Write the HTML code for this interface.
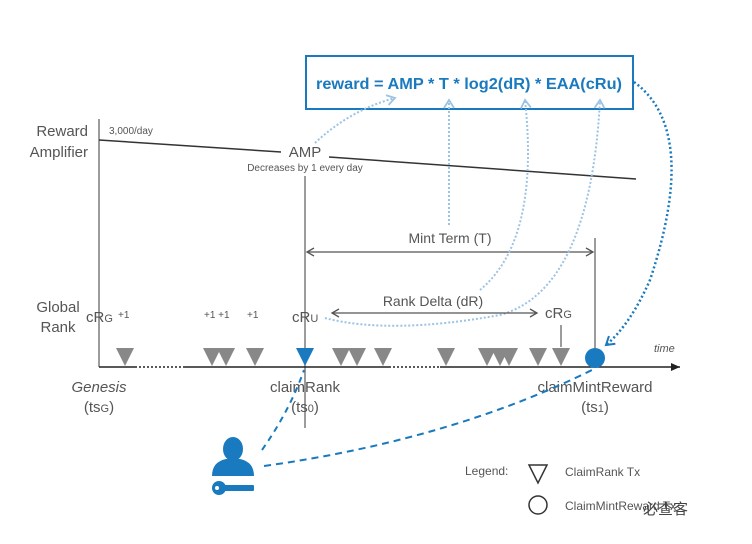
<!DOCTYPE html>
<html><head><meta charset="utf-8"><style>
html,body{margin:0;padding:0;background:#fff}
svg{display:block}
text{font-family:"Liberation Sans","Noto Sans CJK SC",sans-serif;fill:#555}
</style></head><body>
<svg width="752" height="544" viewBox="0 0 752 544" xmlns="http://www.w3.org/2000/svg">
<defs>
<marker id="ag" markerWidth="10" markerHeight="10" refX="8" refY="5" orient="auto-start-reverse" markerUnits="userSpaceOnUse"><path d="M1,1 L8,5 L1,9" fill="none" stroke="#555" stroke-width="1.3"/></marker>
<marker id="ab" markerWidth="12" markerHeight="12" refX="9" refY="6" orient="auto" markerUnits="userSpaceOnUse"><path d="M1,1 L9,6 L1,11" fill="none" stroke="#9cc3e3" stroke-width="1.8"/></marker>
<marker id="abd" markerWidth="12" markerHeight="12" refX="9" refY="6" orient="auto" markerUnits="userSpaceOnUse"><path d="M1,1 L9,6 L1,11" fill="none" stroke="#1a7abf" stroke-width="2"/></marker>
<marker id="ax" markerWidth="10" markerHeight="10" refX="9" refY="5" orient="auto" markerUnits="userSpaceOnUse"><path d="M0,1 L9,5 L0,9 z" fill="#222"/></marker>
</defs>

<rect x="306" y="56" width="327" height="53" fill="#fff" stroke="#1a7abf" stroke-width="2"/>
<text x="316" y="89" textLength="306" lengthAdjust="spacingAndGlyphs" style="font-weight:bold;font-size:16px;fill:#1a7abf">reward = AMP * T * log2(dR) * EAA(cRu)</text>

<text x="88" y="136" text-anchor="end" font-size="15">Reward</text>
<text x="88" y="157" text-anchor="end" font-size="15">Amplifier</text>
<text x="58" y="312" text-anchor="middle" font-size="15">Global</text>
<text x="58" y="332" text-anchor="middle" font-size="15">Rank</text>

<line x1="99" y1="119" x2="99" y2="367" stroke="#666" stroke-width="1.3"/>
<text x="109" y="134" font-size="10">3,000/day</text>
<line x1="99" y1="140" x2="281" y2="152" stroke="#333" stroke-width="1.5"/>
<line x1="329" y1="157" x2="636" y2="179" stroke="#333" stroke-width="1.5"/>
<text x="305" y="157" text-anchor="middle" font-size="15">AMP</text>
<text x="305" y="171" text-anchor="middle" font-size="10">Decreases by 1 every day</text>

<line x1="305" y1="176" x2="305" y2="428" stroke="#666" stroke-width="1.3"/>
<line x1="595" y1="238" x2="595" y2="350" stroke="#666" stroke-width="1.3"/>
<line x1="307" y1="252" x2="593" y2="252" stroke="#555" stroke-width="1.3" marker-end="url(#ag)" marker-start="url(#ag)"/>
<text x="450" y="243" text-anchor="middle" font-size="14">Mint Term (T)</text>

<path d="M315,143 Q350,110 395,98" fill="none" stroke="#9cc3e3" stroke-width="2" stroke-dasharray="2,2" marker-end="url(#ab)"/>
<line x1="449" y1="225" x2="449" y2="100" stroke="#9cc3e3" stroke-width="2" stroke-dasharray="2,2" marker-end="url(#ab)"/>
<path d="M480,290 Q540,240 525,100" fill="none" stroke="#9cc3e3" stroke-width="2" stroke-dasharray="2,2" marker-end="url(#ab)"/>
<path d="M325,318 Q390,335 500,315 Q590,290 600,100" fill="none" stroke="#9cc3e3" stroke-width="2" stroke-dasharray="2,2" marker-end="url(#ab)"/>
<path d="M634,82 Q700,130 650,280 Q630,325 606,345" fill="none" stroke="#1a7abf" stroke-width="2.5" stroke-dasharray="2,2.5" marker-end="url(#abd)"/>

<text x="86" y="322" font-size="15">cR<tspan font-size="11">G</tspan></text>
<text x="118" y="318" font-size="10">+1</text>
<text x="204" y="318" font-size="10">+1 +1</text>
<text x="247" y="318" font-size="10">+1</text>
<text x="292" y="322" font-size="15">cR<tspan font-size="11">U</tspan></text>
<line x1="332" y1="313" x2="537" y2="313" stroke="#555" stroke-width="1.3" marker-end="url(#ag)" marker-start="url(#ag)"/>
<text x="433" y="306" text-anchor="middle" font-size="14">Rank Delta (dR)</text>
<text x="545" y="318" font-size="15">cR<tspan font-size="11">G</tspan></text>
<line x1="561" y1="325" x2="561" y2="347" stroke="#666" stroke-width="1.3"/>

<line x1="99" y1="367" x2="135" y2="367" stroke="#222" stroke-width="1.5"/>
<line x1="135" y1="367" x2="183" y2="367" stroke="#222" stroke-width="1.5" stroke-dasharray="2,2"/>
<line x1="183" y1="367" x2="389" y2="367" stroke="#222" stroke-width="1.5"/>
<line x1="389" y1="367" x2="440" y2="367" stroke="#222" stroke-width="1.5" stroke-dasharray="2,2"/>
<line x1="440" y1="367" x2="680" y2="367" stroke="#222" stroke-width="1.5" marker-end="url(#ax)"/>
<text x="654" y="352" font-size="11" font-style="italic">time</text>

<g fill="#888">
<path d="M116,348h18l-9,18z"/>
<path d="M203,348h18l-9,18z"/>
<path d="M217,348h18l-9,18z"/>
<path d="M246,348h18l-9,18z"/>
<path d="M332,348h18l-9,18z"/>
<path d="M348,348h18l-9,18z"/>
<path d="M374,348h18l-9,18z"/>
<path d="M437,348h18l-9,18z"/>
<path d="M478,348h18l-9,18z"/>
<path d="M491,348h18l-9,18z"/>
<path d="M500,348h18l-9,18z"/>
<path d="M529,348h18l-9,18z"/>
<path d="M552,348h18l-9,18z"/>
</g>
<path d="M296,348h18l-9,18z" fill="#1a7abf"/>
<circle cx="595" cy="358" r="10" fill="#1a7abf"/>

<text x="99" y="392" text-anchor="middle" font-size="15" font-style="italic">Genesis</text>
<text x="99" y="412" text-anchor="middle" font-size="15">(ts<tspan font-size="11">G</tspan>)</text>
<text x="305" y="392" text-anchor="middle" font-size="15">claimRank</text>
<text x="305" y="412" text-anchor="middle" font-size="15">(ts<tspan font-size="11">0</tspan>)</text>
<text x="595" y="392" text-anchor="middle" font-size="15">claimMintReward</text>
<text x="595" y="412" text-anchor="middle" font-size="15">(ts<tspan font-size="11">1</tspan>)</text>

<path d="M262,450 Q290,410 304,370" fill="none" stroke="#1a7abf" stroke-width="2" stroke-dasharray="6,5"/>
<path d="M264,466 Q450,440 592,370" fill="none" stroke="#1a7abf" stroke-width="2" stroke-dasharray="7,5"/>

<g fill="#1a7abf">
<ellipse cx="233" cy="449" rx="10" ry="12"/>
<path d="M212,476 Q212,462 226,459 L240,459 Q254,462 254,476 z"/>
<circle cx="219" cy="488" r="7"/>
<rect x="222" y="485" width="32" height="6" rx="1"/>
</g>
<circle cx="217" cy="488" r="2" fill="#fff"/>

<text x="465" y="475" font-size="12">Legend:</text>
<path d="M529,465h18l-9,18z" fill="none" stroke="#333" stroke-width="1.5"/>
<text x="565" y="476" font-size="12">ClaimRank Tx</text>
<circle cx="538" cy="505" r="9" fill="none" stroke="#333" stroke-width="1.5"/>
<text x="565" y="510" font-size="12">ClaimMintReward Tx</text>
<text x="643" y="514" font-size="15" style="fill:#444">必查客</text>
</svg>
</body></html>
